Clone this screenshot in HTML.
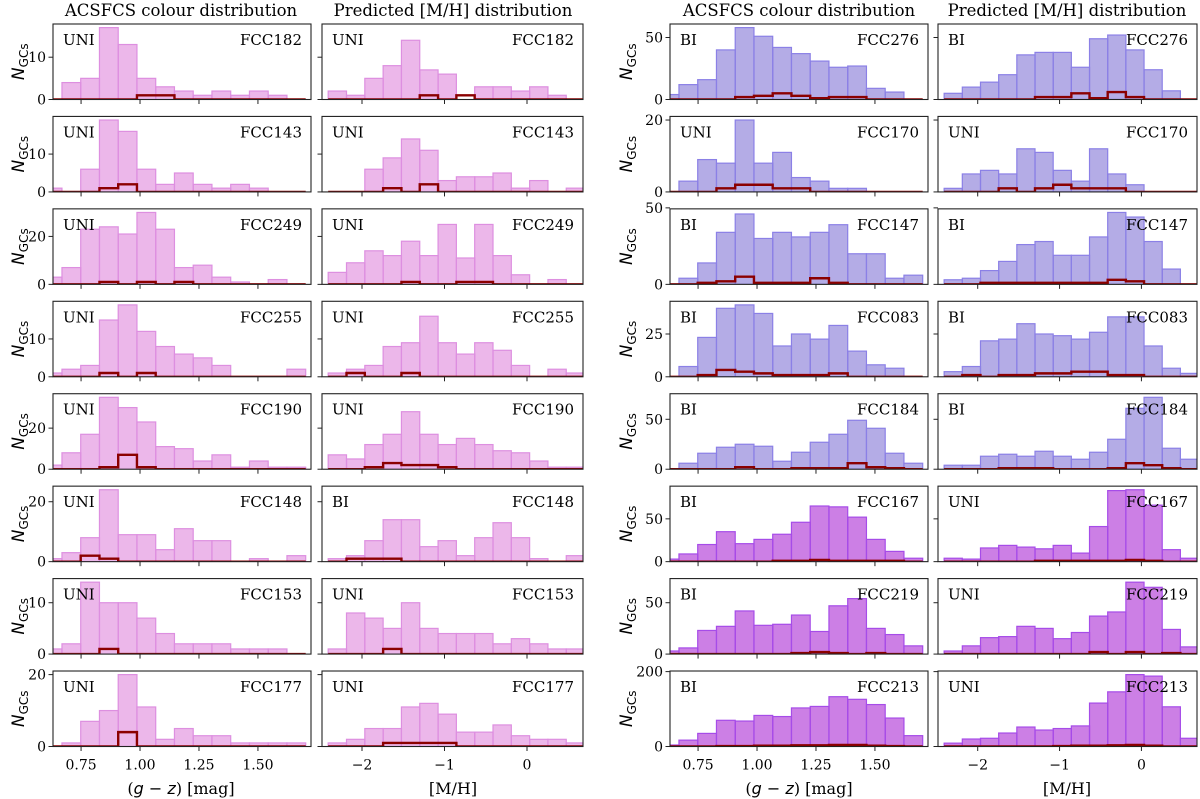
<!DOCTYPE html>
<html><head><meta charset="utf-8"><title>GC colour and [M/H] distributions</title>
<style>
html,body{margin:0;padding:0;background:#fff;}
svg{display:block;font-family:"DejaVu Serif","Liberation Serif",serif;}
</style></head>
<body>
<svg id="fig" width="1200" height="799" viewBox="0 0 1200 799" xmlns="http://www.w3.org/2000/svg">
  <text x="181" y="16" font-size="16.5" text-anchor="middle">ACSFCS colour distribution</text>
  <text x="453" y="16" font-size="16.5" text-anchor="middle">Predicted [M/H] distribution</text>
  <text x="799" y="16" font-size="16.5" text-anchor="middle">ACSFCS colour distribution</text>
  <text x="1067" y="16" font-size="16.5" text-anchor="middle">Predicted [M/H] distribution</text>
</svg>
<script>
// ---- data (counts per bin) ----
const colourEdgeStart = 0.5895, colourBinWidth = 0.0795;
const mhEdgeStart = -2.41, mhBinWidth = 0.222;
const colourTicks = [0.75, 1.00, 1.25, 1.50];
const colourTickLabels = ["0.75", "1.00", "1.25", "1.50"];
const mhTicks = [-2, -1, 0];
const mhTickLabels = ["\u22122", "\u22121", "0"];

const leftGalaxies = ["FCC182","FCC143","FCC249","FCC255","FCC190","FCC148","FCC153","FCC177"];
const leftColourTags = ["UNI","UNI","UNI","UNI","UNI","UNI","UNI","UNI"];
const leftMhTags = ["UNI","UNI","UNI","UNI","UNI","BI","UNI","UNI"];
const leftYTicks = [[0,10],[0,10],[0,20],[0,10],[0,20],[0,20],[0,10],[0,20]];
const rightGalaxies = ["FCC276","FCC170","FCC147","FCC083","FCC184","FCC167","FCC219","FCC213"];
const rightColourTags = ["BI","UNI","BI","BI","BI","BI","BI","BI"];
const rightMhTags = ["BI","UNI","BI","BI","BI","UNI","UNI","UNI"];
const rightYTicks = [[0,50],[0,20],[0,50],[0,25],[0,50],[0,50],[0,50],[0,200]];

const fcc182Colour = [0,4,5,17,13,5,3,2,1,2,1,2,1,0];
const fcc182ColourSub = [0,0,0,0,0,1,1,0,0,0,0,0,0,0];
const fcc182Mh = [2,1,5,8,14,7,6,0,3,3,2,3,1,0];
const fcc182MhSub = [0,0,0,0,0,1,0,1,0,0,0,0,0,0];
const fcc143Colour = [1,0,6,19,16,6,2,5,2,1,2,1,0,0];
const fcc143ColourSub = [0,0,0,1,2,0,0,0,0,0,0,0,0,0];
const fcc143Mh = [0,0,6,9,14,11,3,4,4,5,1,3,0,1];
const fcc143MhSub = [0,0,0,1,0,2,0,0,0,0,0,0,0,0];
const fcc249Colour = [3,7,23,24,21,30,23,7,8,3,1,0,2,0];
const fcc249ColourSub = [0,0,0,1,0,1,0,1,0,0,0,0,0,0];
const fcc249Mh = [5,9,14,12,18,12,25,11,25,12,4,0,2,0];
const fcc249MhSub = [0,0,0,0,1,0,0,1,1,0,0,0,0,0];
const fcc255Colour = [1,2,3,15,19,12,8,6,5,3,0,0,0,2];
const fcc255ColourSub = [0,0,0,1,0,1,0,0,0,0,0,0,0,0];
const fcc255Mh = [1,2,3,8,9,16,9,6,9,7,3,0,2,1];
const fcc255MhSub = [0,1,0,0,1,0,0,0,0,0,0,0,0,0];
const fcc190Colour = [2,8,17,35,30,23,11,10,4,7,1,4,1,1];
const fcc190ColourSub = [0,0,0,1,7,1,0,0,0,0,0,0,0,0];
const fcc190Mh = [7,5,12,17,28,17,12,15,12,9,8,4,1,1];
const fcc190MhSub = [0,0,1,3,2,2,1,0,0,0,0,0,0,0];
const fcc148Colour = [1,3,8,24,9,9,4,11,7,7,0,1,0,2];
const fcc148ColourSub = [0,0,2,1,0,0,0,0,0,0,0,0,0,0];
const fcc148Mh = [1,2,7,14,14,5,7,2,8,13,8,1,0,2];
const fcc148MhSub = [0,1,1,1,0,0,0,0,0,0,0,0,0,0];
const fcc153Colour = [1,2,14,10,10,7,4,2,2,2,1,1,1,0];
const fcc153ColourSub = [0,0,0,1,0,0,0,0,0,0,0,0,0,0];
const fcc153Mh = [1,8,7,5,10,5,4,4,4,2,3,2,1,1];
const fcc153MhSub = [0,0,0,1,0,0,0,0,0,0,0,0,0,0];
const fcc177Colour = [0,1,7,10,20,11,2,5,3,3,1,1,1,1];
const fcc177ColourSub = [0,0,0,0,4,0,0,0,0,0,0,0,0,0];
const fcc177Mh = [1,2,5,5,11,12,9,4,4,6,3,2,2,1];
const fcc177MhSub = [0,0,0,1,1,1,1,0,0,0,0,0,0,0];

const fcc276Colour = [4,12,16,40,58,51,42,37,31,26,27,9,6,0];
const fcc276ColourSub = [0,0,0,0,2,3,5,3,1,2,2,0,0,0];
const fcc276Mh = [5,10,14,20,36,38,38,26,49,52,40,24,7,0];
const fcc276MhSub = [0,0,0,0,0,2,2,5,1,6,2,0,0,0];
const fcc170Colour = [0,3,9,8,20,8,11,4,3,1,1,0,0,0];
const fcc170ColourSub = [0,0,0,1,2,2,1,1,0,0,0,0,0,0];
const fcc170Mh = [1,5,6,5,12,11,6,3,12,5,2,0,0,0];
const fcc170MhSub = [0,0,0,1,0,1,2,1,1,1,0,0,0,0];
const fcc147Colour = [0,4,14,34,46,30,34,31,34,39,20,20,4,6];
const fcc147ColourSub = [0,0,1,2,5,1,1,1,4,1,0,0,0,0];
const fcc147Mh = [3,4,9,15,26,28,19,19,31,47,44,28,10,0];
const fcc147MhSub = [0,0,1,1,1,1,1,1,1,3,2,0,0,0];
const fcc083Colour = [0,6,23,40,42,37,18,25,22,30,15,7,5,0];
const fcc083ColourSub = [0,0,1,4,3,2,1,1,1,2,0,0,0,0];
const fcc083Mh = [3,6,21,22,31,25,24,22,26,35,35,18,5,2];
const fcc083MhSub = [0,1,0,1,1,2,2,3,3,1,1,0,0,0];
const fcc184Colour = [0,6,16,22,25,23,8,17,27,35,49,41,16,6];
const fcc184ColourSub = [0,0,0,0,2,0,0,1,1,1,6,2,1,0];
const fcc184Mh = [4,4,13,15,13,18,13,10,17,30,61,72,21,10];
const fcc184MhSub = [0,0,0,1,1,1,0,0,0,1,6,4,1,0];
const fcc167Colour = [3,9,20,35,21,26,32,46,65,64,52,26,12,4];
const fcc167ColourSub = [0,0,0,0,0,0,1,1,2,1,1,1,1,0];
const fcc167Mh = [4,3,16,19,17,15,19,10,41,83,84,66,14,4];
const fcc167MhSub = [0,0,0,0,0,1,1,1,1,1,2,1,0,0];
const fcc219Colour = [3,6,23,27,42,28,29,38,22,47,54,25,19,8];
const fcc219ColourSub = [0,0,0,0,0,0,0,1,2,1,0,1,0,0];
const fcc219Mh = [3,8,16,17,27,25,15,21,37,41,70,65,24,7];
const fcc219MhSub = [0,0,0,0,0,0,0,0,2,0,2,0,1,0];
const fcc213Colour = [4,17,35,70,68,83,80,103,107,133,126,112,76,29];
const fcc213ColourSub = [0,0,0,1,1,2,2,3,3,4,4,2,1,0];
const fcc213Mh = [9,20,22,36,52,44,48,55,116,146,192,188,106,22];
const fcc213MhSub = [0,0,0,0,0,0,1,2,2,3,4,2,0,0];

const leftColourData = [fcc182Colour,fcc143Colour,fcc249Colour,fcc255Colour,fcc190Colour,fcc148Colour,fcc153Colour,fcc177Colour];
const leftColourSub = [fcc182ColourSub,fcc143ColourSub,fcc249ColourSub,fcc255ColourSub,fcc190ColourSub,fcc148ColourSub,fcc153ColourSub,fcc177ColourSub];
const leftMhData = [fcc182Mh,fcc143Mh,fcc249Mh,fcc255Mh,fcc190Mh,fcc148Mh,fcc153Mh,fcc177Mh];
const leftMhSub = [fcc182MhSub,fcc143MhSub,fcc249MhSub,fcc255MhSub,fcc190MhSub,fcc148MhSub,fcc153MhSub,fcc177MhSub];
const rightColourData = [fcc276Colour,fcc170Colour,fcc147Colour,fcc083Colour,fcc184Colour,fcc167Colour,fcc219Colour,fcc213Colour];
const rightColourSub = [fcc276ColourSub,fcc170ColourSub,fcc147ColourSub,fcc083ColourSub,fcc184ColourSub,fcc167ColourSub,fcc219ColourSub,fcc213ColourSub];
const rightMhData = [fcc276Mh,fcc170Mh,fcc147Mh,fcc083Mh,fcc184Mh,fcc167Mh,fcc219Mh,fcc213Mh];
const rightMhSub = [fcc276MhSub,fcc170MhSub,fcc147MhSub,fcc083MhSub,fcc184MhSub,fcc167MhSub,fcc219MhSub,fcc213MhSub];

// ---- layout ----
const NS = "http://www.w3.org/2000/svg";
const svg = document.getElementById("fig");
const colX = [[53,311],[322,583],[670,928],[938,1197]];
const colourXlim = [0.631, 1.725];
const mhXlim = [-2.485, 0.679];
const rowTop0 = 24, rowPitch = 92.43, rowH = 75.5;
const pink = {fill:"rgba(218,112,214,0.5)", stroke:"#dd8fe0"};
const blue = {fill:"rgba(106,90,205,0.5)", stroke:"#8b80e6"};
const purple = {fill:"rgba(153,0,204,0.5)", stroke:"#a64ce8"};

function mk(tag, attrs, parent) {
  const e = document.createElementNS(NS, tag);
  for (const k in attrs) e.setAttribute(k, attrs[k]);
  (parent || svg).appendChild(e);
  return e;
}

let clipId = 0;
function drawPanel(ci, ri, counts, sub, isColour, ylim, yTicks, showYLabels, tag, gal, palette) {
  const x0 = colX[ci][0], x1 = colX[ci][1];
  const top = rowTop0 + rowPitch * ri, bot = top + rowH;
  const xl = isColour ? colourXlim : mhXlim;
  const xs = v => x0 + (v - xl[0]) / (xl[1] - xl[0]) * (x1 - x0);
  const ys = v => bot - v / ylim * (bot - top);
  const start = isColour ? colourEdgeStart : mhEdgeStart;
  const w = isColour ? colourBinWidth : mhBinWidth;

  const g = mk("g", {});
  
  
  const cid = "clip" + (clipId++);
  const cp = mk("clipPath", {id: cid}, g);
  mk("rect", {x: x0, y: top - 1, width: x1 - x0, height: rowH + 1}, cp);
  const plot = mk("g", {"clip-path": "url(#" + cid + ")"}, g);

  counts.forEach((c, i) => {
    if (c <= 0) return;
    const a = xs(start + i * w), b = xs(start + (i + 1) * w);
    const r = mk("rect", {x: a, y: ys(c), width: b - a, height: bot - ys(c), fill: palette.fill, stroke: palette.stroke, "stroke-width": 1.2}, plot);
    
    
  });
  // step outline of subset
  let d = "M" + xs(start) + "," + ys(0);
  sub.forEach((c, i) => {
    d += " L" + xs(start + i * w) + "," + ys(c) + " L" + xs(start + (i + 1) * w) + "," + ys(c);
  });
  d += " L" + xs(start + sub.length * w) + "," + ys(0);
  const st = mk("path", {d: d, fill: "none", stroke: "#8b0000", "stroke-width": 2.4, "stroke-linejoin": "miter"}, plot);
  
  

  const fr = mk("rect", {x: x0, y: top, width: x1 - x0, height: rowH, fill: "none", stroke: "#222", "stroke-width": 1.1}, g);
  
  

  // x ticks
  const ticks = isColour ? colourTicks : mhTicks;
  const labels = isColour ? colourTickLabels : mhTickLabels;
  ticks.forEach((t, i) => {
    const x = xs(t);
    mk("line", {x1: x, x2: x, y1: bot, y2: bot + 4.5, stroke: "#222", "stroke-width": 1}, g);
    if (ri === 7) {
      const tl = mk("text", {x: x, y: bot + 23, "font-size": 14, "text-anchor": "middle"}, g);
      tl.textContent = labels[i];
      
      
    }
  });
  // y ticks
  yTicks.forEach(t => {
    const y = ys(t);
    mk("line", {x1: x0 - 4.5, x2: x0, y1: y, y2: y, stroke: "#222", "stroke-width": 1}, g);
    if (showYLabels) {
      const tl = mk("text", {x: x0 - 7, y: y + 5, "font-size": 14, "text-anchor": "end"}, g);
      tl.textContent = String(t);
      
      
    }
  });
  const t1 = mk("text", {x: x0 + 10, y: top + 21, "font-size": 15}, g);
  t1.textContent = tag;
  
  
  const t2 = mk("text", {x: x1 - 9, y: top + 21, "font-size": 15, "text-anchor": "end"}, g);
  t2.textContent = gal;
  
  
}

function maxOf(arrs) { return Math.max(...arrs.map(a => Math.max(...a))); }

for (let r = 0; r < 8; r++) {
  const ylL = 1.05 * maxOf([leftColourData[r], leftMhData[r], leftColourSub[r], leftMhSub[r]]);
  drawPanel(0, r, leftColourData[r], leftColourSub[r], true, ylL, leftYTicks[r], true, leftColourTags[r], leftGalaxies[r], pink);
  drawPanel(1, r, leftMhData[r], leftMhSub[r], false, ylL, leftYTicks[r], false, leftMhTags[r], leftGalaxies[r], pink);
  const pal = r < 5 ? blue : purple;
  const ylR = 1.05 * maxOf([rightColourData[r], rightMhData[r], rightColourSub[r], rightMhSub[r]]);
  drawPanel(2, r, rightColourData[r], rightColourSub[r], true, ylR, rightYTicks[r], true, rightColourTags[r], rightGalaxies[r], pal);
  drawPanel(3, r, rightMhData[r], rightMhSub[r], false, ylR, rightYTicks[r], false, rightMhTags[r], rightGalaxies[r], pal);

  [18, 626].forEach((lx, k) => {
    const cy = rowTop0 + rowPitch * r + rowH / 2;
    const yl = mk("text", {x: 0, y: 0, transform: "translate(" + (lx + 6) + "," + cy + ") rotate(-90)", "text-anchor": "middle", "font-family": "DejaVu Sans, Liberation Sans, sans-serif"});
    
    
    const n = mk("tspan", {"font-style": "italic", "font-size": 17}, yl); n.textContent = "N";
    const s = mk("tspan", {"font-size": 12, dy: 4}, yl); s.textContent = "GCs";
  });
}

// x-axis titles
[[181, true], [453, false], [799, true], [1067, false]].forEach(([cx, isC]) => {
  const t = mk("text", {x: cx, y: 794, "font-size": 16, "text-anchor": "middle"});
  
  
  if (isC) {
    const a = mk("tspan", {}, t); a.textContent = "(";
    const b = mk("tspan", {"font-style": "italic", "font-family": "DejaVu Sans, sans-serif"}, t); b.textContent = "g";
    const c = mk("tspan", {"font-family": "DejaVu Sans, sans-serif"}, t); c.textContent = " \u2212 ";
    const d = mk("tspan", {"font-style": "italic", "font-family": "DejaVu Sans, sans-serif"}, t); d.textContent = "z";
    const e = mk("tspan", {}, t); e.textContent = ") [mag]";
  } else {
    t.textContent = "[M/H]";
  }
});
</script>
</body></html>
